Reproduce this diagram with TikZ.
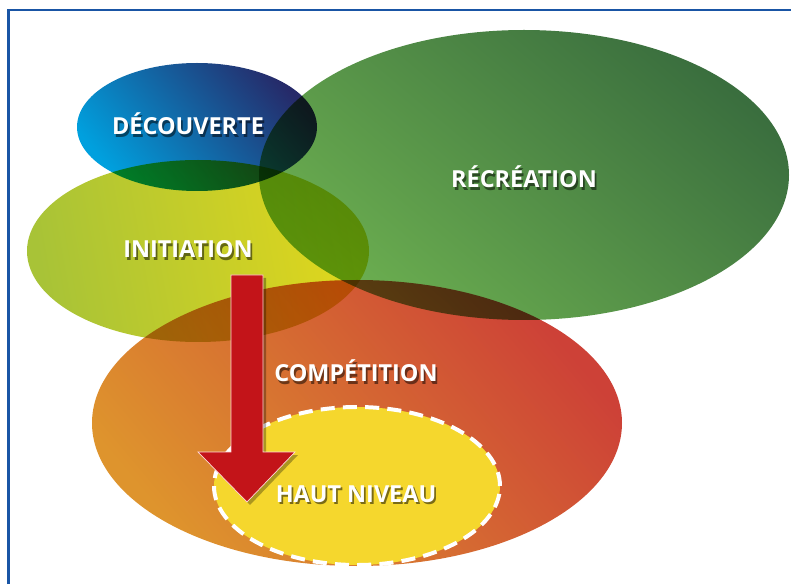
\documentclass[tikz,border=0pt]{standalone}
\usepackage{fontspec}
\setmainfont{Open Sans}

\definecolor{frameblue}{RGB}{25,85,165}
\definecolor{decL}{RGB}{0,160,222}
\definecolor{decD}{RGB}{38,42,105}
\definecolor{iniL}{RGB}{168,195,55}
\definecolor{iniR}{RGB}{225,215,28}
\definecolor{recL}{RGB}{108,175,80}
\definecolor{recD}{RGB}{58,110,62}
\definecolor{comL}{RGB}{222,148,45}
\definecolor{comR}{RGB}{205,65,55}
\definecolor{hautY}{RGB}{245,215,45}
\definecolor{arrowred}{RGB}{195,20,25}

\begin{document}
\begin{tikzpicture}[x=0.3mm,y=0.3mm,
    lbl/.style={text=white,inner sep=0pt,anchor=base,font=\fontsize{20}{24}\selectfont\bfseries},
    lblshadow/.style={lbl,text=black,opacity=0.5},
    arrowbody/.style={fill=arrowred,draw=red!15,line width=0.6pt},
    arrowshade/.style={fill=black,opacity=0.3,draw=none,transform canvas={shift={(3,-3)}}}]

  \useasboundingbox (0,0) rectangle (791,584);
  \draw[frameblue,line width=2pt] (8.5,0) -- (8.5,574) -- (791,574);

  % zones, blended
  \begin{scope}[blend mode=multiply]
    \shade[left color=iniL,right color=iniR,shading angle=100] (198,333) ellipse (171 and 91);
    \shade[left color=decL,right color=decD,shading angle=130] (197,457) ellipse (120 and 64);
    \shade[left color=recL,right color=recD,shading angle=140] (524,409) ellipse (265 and 145);
    \shade[left color=comL,right color=comR,shading angle=130] (357,161) ellipse (265 and 143);
  \end{scope}

  % haut niveau
  \filldraw[fill=hautY,draw=white,line width=3.4pt,dash pattern=on 12pt off 7pt]
    (357,98) ellipse (143 and 79);

  % arrow
  \foreach \st in {arrowshade,arrowbody}
    \filldraw[\st] (231,309) -- (263,309) -- (263,132) -- (295,132) -- (247,82)
      -- (198,132) -- (231,132) -- cycle;

  % labels, with a dark copy below as shadow
  \foreach \name/\x/\y/\txt in {decouverte/188/449/DÉCOUVERTE,
      initiation/188/326/INITIATION, recreation/524/396/RÉCRÉATION,
      competition/356/202/COMPÉTITION, hautniveau/356/82/HAUT NIVEAU} {
    \node[lblshadow] (\name-s) at (\x+1.8,\y-2.2) {\txt};
    \node[lbl] (\name) at (\x,\y) {\txt};
  }

\end{tikzpicture}
\end{document}
